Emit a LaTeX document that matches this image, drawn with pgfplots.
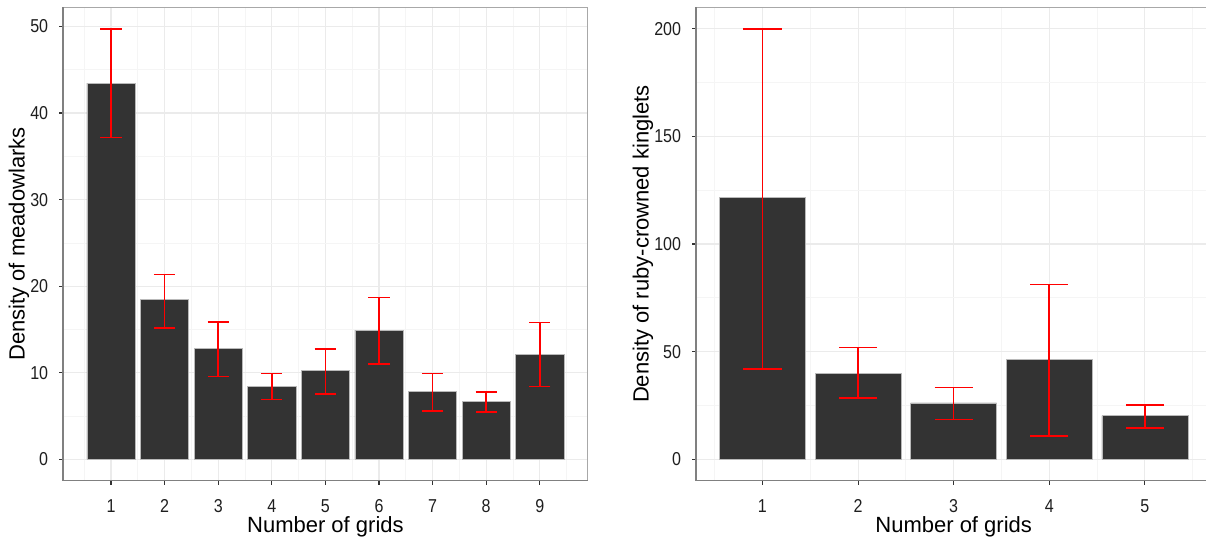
\documentclass[border=0pt]{standalone}
\usepackage{pgfplots}
\pgfplotsset{compat=1.18}
\usepackage{fontspec}
\setmainfont{Liberation Sans}
\newfontfamily\tickfont{Liberation Sans}[FakeStretch=0.86]
\definecolor{barfill}{HTML}{333333}
\definecolor{gmaj}{HTML}{EBEBEB}
\definecolor{gmin}{HTML}{F5F5F5}
\definecolor{axdark}{HTML}{808080}
\definecolor{axlight}{HTML}{A8A8A8}
\definecolor{ticktext}{HTML}{1E1E1E}

\pgfplotsset{
  mystyle/.style={
    scale only axis,
    axis line style={axlight, line width=1.1pt},
    tick align=outside,
    tick pos=left,
    major tick length=3pt,
    minor tick length=0pt,
    tick style={black!80, line width=0.8pt},
    grid=both,
    major grid style={gmaj, line width=0.8pt},
    minor grid style={gmin, line width=0.6pt},
    /pgf/number format/assume math mode=true,
    ticklabel style={font=\tickfont\fontsize{14}{16}\selectfont, text=ticktext},
    yticklabel style={anchor=east, inner sep=0pt, xshift=-8pt},
    xticklabel style={anchor=base, inner sep=0pt, yshift=-20.5pt},
    label style={font=\fontsize{16.5}{19}\selectfont, text=black},
    xlabel style={at={(axis description cs:0.5,0)}, anchor=base, yshift=-39pt},
    clip=false,
  },
  mybar/.style={
    ybar, bar width=0.9, fill=barfill, draw=gray!55, line width=0.4pt,
  },
  myerr/.style={
    draw=none, mark=none, forget plot,
    error bars/.cd, y dir=both, y explicit,
    error bar style={draw=red, line width=1.2pt},
    error mark options={rotate=90, draw=red, line width=1.2pt, mark size=#1},
  },
}

\pgfplotstableread{
x y ep em
1 43.46 6.24 6.31
2 18.44 2.92 3.24
3 12.82 3.08 3.24
4 8.47 1.46 1.54
5 10.32 2.43 2.73
6 14.94 3.76 3.89
7 7.82 2.11 2.20
8 6.66 1.12 1.19
9 12.12 3.68 3.69
}\meadow

\pgfplotstableread{
x y ep em
1 121.5 78.5 79.5
2 40.0 11.9 11.5
3 26.2 7.1 7.8
4 46.2 35.0 35.5
5 20.2 5.1 5.6
}\kinglet

\begin{document}
\begin{tikzpicture}
\path[use as bounding box] (0,0) rectangle (904.5pt,-405.75pt);

\begin{axis}[mystyle,
  at={(47.3pt,-360.5pt)}, anchor=south west,
  width=393.5pt, height=355pt,
  xmin=0.105, xmax=9.895, ymin=-2.45, ymax=52.2,
  xtick={1,...,9}, minor xtick={0.5,1.5,...,9.5},
  ytick={0,10,...,50}, minor ytick={5,15,...,45},
  xlabel={Number of grids},
  ylabel={Density of meadowlarks},
  ylabel style={at={(axis description cs:-0.0839,0.5)}, anchor=center},
]
\addplot[mybar] table[x=x, y=y] {\meadow};
\addplot[myerr=8pt] table[x=x, y=y, y error plus=ep, y error minus=em] {\meadow};
\draw[axdark, line width=1.1pt] (rel axis cs:0,1) -- (rel axis cs:0,0) -- (rel axis cs:1,0);
\end{axis}

\begin{axis}[mystyle,
  at={(522pt,-360.5pt)}, anchor=south west,
  width=386.5pt, height=355pt,
  xmin=0.305, xmax=5.695, ymin=-10, ymax=210,
  xtick={1,...,5}, minor xtick={0.5,1.5,...,5.5},
  ytick={0,50,...,200}, minor ytick={25,75,...,175},
  xlabel={Number of grids},
  ylabel={Density of ruby-crowned kinglets},
  ylabel style={at={(axis description cs:-0.1029,0.5)}, anchor=center},
]
\addplot[mybar] table[x=x, y=y] {\kinglet};
\addplot[myerr=14.3pt] table[x=x, y=y, y error plus=ep, y error minus=em] {\kinglet};
\draw[axdark, line width=1.1pt] (rel axis cs:0,1) -- (rel axis cs:0,0) -- (rel axis cs:1,0);
\end{axis}
\end{tikzpicture}
\end{document}
